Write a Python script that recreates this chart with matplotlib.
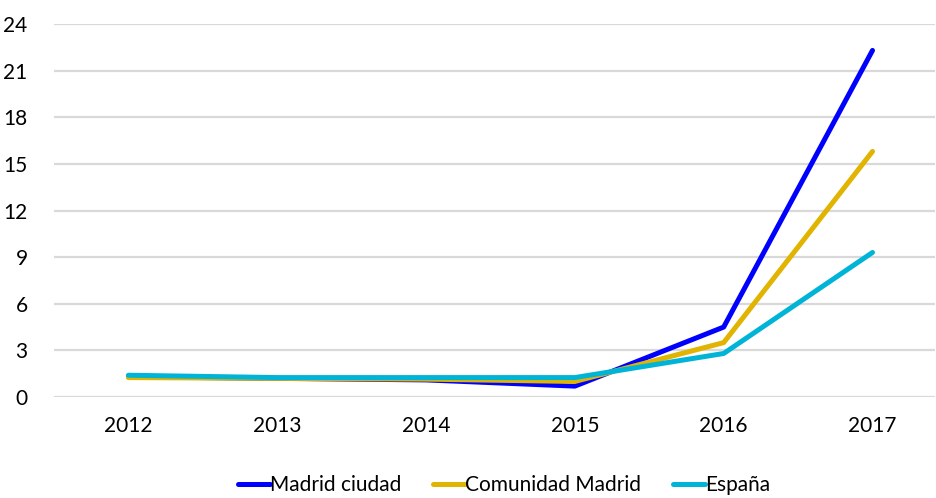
import matplotlib.pyplot as plt
import numpy as np

# Data
years = ['2012', '2013', '2014', '2015', '2016', '2017']
madrid_ciudad = [1.3, 1.2, 1.1, 0.7, 4.5, 22.3]
comunidad_madrid = [1.25, 1.2, 1.15, 1.0, 3.5, 15.8]
espana = [1.4, 1.25, 1.25, 1.25, 2.8, 9.3]
y_ticks = [0, 3, 6, 9, 12, 15, 18, 21, 24]

plt.rcParams['font.family'] = ['Lato', 'DejaVu Sans']

fig = plt.figure(figsize=(9.36, 4.98), dpi=100)
ax = fig.add_axes([54/936, 101/498, 881/936, 373/498])

x = np.arange(len(years))
ax.plot(x, madrid_ciudad, color='#0000ff', lw=3.6, label='Madrid ciudad', solid_capstyle='round')
ax.plot(x, comunidad_madrid, color='#e0b400', lw=3.6, label='Comunidad Madrid', solid_capstyle='round')
ax.plot(x, espana, color='#00b4d8', lw=3.6, label='España', solid_capstyle='round')

# Grid settings
ax.set_xlim(-0.5, 5.42)
ax.set_ylim(0, 24)
ax.set_yticks(y_ticks)
ax.set_xticks(x)
ax.set_xticklabels(years)
ax.yaxis.grid(True, color='#d9d9d9', lw=1.6)
ax.set_axisbelow(True)
for s in ax.spines.values():
    s.set_visible(False)
ax.tick_params(length=0, labelsize=15, colors='#000000')
ax.tick_params(axis='x', pad=14)
ax.tick_params(axis='y', pad=19)

# legend kept just inside the bottom edge
ax.legend(loc='center', bbox_to_anchor=(504/936, 13/498), bbox_transform=fig.transFigure,
          ncol=3, frameon=False, fontsize=15, handlelength=1.55, handletextpad=0.0,
          columnspacing=1.5, borderaxespad=0)

fig.savefig('out.png', dpi=100)
